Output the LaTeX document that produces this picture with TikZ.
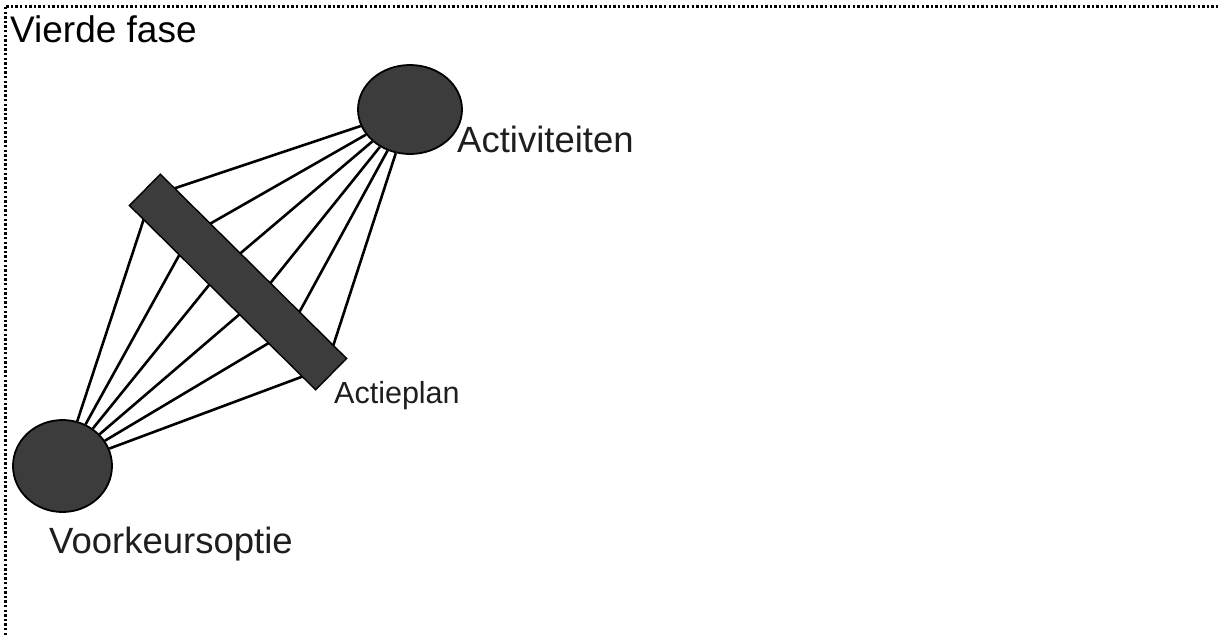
\documentclass[tikz,border=0pt]{standalone}
\usepackage{fontspec}
\setmainfont{Liberation Sans}
\usetikzlibrary{shapes.geometric,calc}
\definecolor{blob}{HTML}{3C3C3C}
\definecolor{labelink}{HTML}{1E1E1E}
\pgfdeclarelayer{background}
\pgfsetlayers{background,main}
\begin{document}
\begin{tikzpicture}[x=1pt,y=-1pt,
  blobnode/.style={ellipse, draw=black, line width=1.8pt, fill=blob, inner sep=0pt},
  barnode/.style={rectangle, draw=black, line width=1.4pt, fill=blob, inner sep=0pt,
    minimum width=262pt, minimum height=44pt, rotate=-44.7},
  tie/.style={line width=2.6pt, draw=black},
  lbl/.style={inner sep=0pt, anchor=base west, text=labelink},
]
\useasboundingbox (0,0) rectangle (1221,635);
% dotted frame along the top and left edges
\draw[line width=3pt, dash pattern=on 2.4pt off 2.2pt] (5,635) -- (5,6) -- (1221,6);

\node[lbl, text=black, font=\fontsize{37}{44}\selectfont] (title) at (10,42) {Vierde fase};

% the three elements
\node[blobnode, minimum width=104pt, minimum height=89pt] (act) at (410,109.5) {};
\node[blobnode, minimum width=99pt, minimum height=92pt] (voor) at (62.5,466) {};
\node[barnode] (plan) at (238,282) {};

% ties from the preferred option through the action plan to the activities
\begin{pgfonlayer}{background}
  \fill[white] (0,0) rectangle (1221,635);
  \foreach \t in {0.08,0.27,0.43,0.59,0.745,0.925}
    \draw[tie] (voor) -- ($(plan.south west)!\t!(plan.south east)$)
                     -- ($(plan.north west)!\t!(plan.north east)$) -- (act);
\end{pgfonlayer}

\node[lbl, font=\fontsize{36.5}{44}\selectfont] (actlbl) at (457,152) {Activiteiten};
\node[lbl, font=\fontsize{36.5}{44}\selectfont] (voorlbl) at (49,553) {Voorkeursoptie};
\node[lbl, font=\fontsize{30.5}{36}\selectfont] (planlbl) at (334,403) {Actieplan};
\end{tikzpicture}
\end{document}
